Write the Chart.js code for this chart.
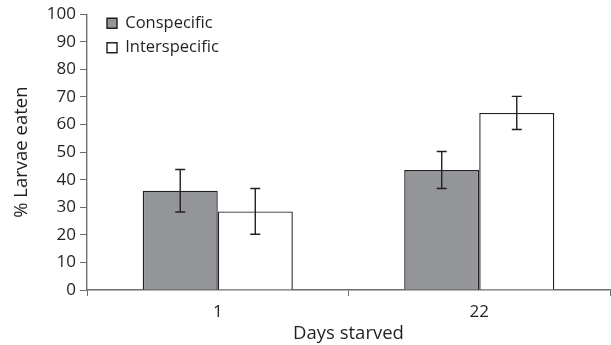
<!DOCTYPE html>
<html>
<head>
<meta charset="utf-8">
<style>
    html, body { margin: 0; padding: 0; background: #fff; }
    .chart { width: 611px; height: 345px; }
</style>
<script src="https://cdn.jsdelivr.net/npm/chart.js"></script>
</head>
<body>
<div class="chart">
    <canvas id="myChart" width="611" height="345"></canvas>
</div>
<script type="text/javascript">
    const days = ['1', '22']
    const conspecific = [36, 43.5]
    const conspecificErr = [7.7, 6.7]
    const interspecific = [28.5, 64.2]
    const interspecificErr = [8.3, 6.0]
    const yTicks = [0, 10, 20, 30, 40, 50, 60, 70, 80, 90, 100]

    const errors = [conspecificErr, interspecificErr]

    // draws the error bars on top of each bar
    const errorBars = {
        id: 'errorBars',
        afterDatasetsDraw(chart) {
            const c = chart.ctx
            const y = chart.scales.y
            c.save()
            c.strokeStyle = '#231f20'
            c.lineWidth = 1.4
            chart.data.datasets.forEach((ds, i) => {
                chart.getDatasetMeta(i).data.forEach((bar, j) => {
                    const v = ds.data[j], e = errors[i][j]
                    const top = y.getPixelForValue(v + e)
                    const bot = y.getPixelForValue(v - e)
                    c.beginPath()
                    c.moveTo(bar.x, top); c.lineTo(bar.x, bot)
                    c.moveTo(bar.x - 5, top); c.lineTo(bar.x + 5, top)
                    c.moveTo(bar.x - 5, bot); c.lineTo(bar.x + 5, bot)
                    c.stroke()
                })
            })
            c.restore()
        }
    }

    // nudge the legend a bit right and down, like in the original
    const legendShift = {
        id: 'legendShift',
        afterLayout(chart) {
            chart.legend.left += 12
            chart.legend.right += 12
            chart.legend.top += 7
            chart.legend.bottom += 7
        }
    }

    Chart.defaults.font.family = '"Open Sans", sans-serif'
    Chart.defaults.font.size = 17
    Chart.defaults.color = '#231f20'

    const ctx = document.getElementById('myChart')
    var chart = new Chart(ctx, {
        type: 'bar',
        data: {
            labels: days,
            datasets: [{
                label: 'Conspecific',
                data: conspecific,
                backgroundColor: '#939598',
                borderColor: '#231f20',
                borderWidth: 1.4,
                categoryPercentage: 0.574,
                barPercentage: 1
            }, {
                label: 'Interspecific',
                data: interspecific,
                backgroundColor: '#ffffff',
                borderColor: '#231f20',
                borderWidth: 1.4,
                categoryPercentage: 0.574,
                barPercentage: 1
            }]
        },
        options: {
            responsive: false,
            animation: false,
            layout: { padding: { top: 14, right: 1, left: 0, bottom: 0 } },
            plugins: {
                tooltip: { enabled: false },
                legend: {
                    position: 'chartArea',
                    align: 'start',
                    labels: {
                        boxWidth: 10,
                        boxHeight: 10,
                        padding: 8,
                        font: { size: 16.5 },
                        color: '#231f20'
                    }
                }
            },
            scales: {
                x: {
                    grid: {
                        offset: true,
                        drawOnChartArea: false,
                        tickLength: 6,
                        color: '#6d6e71'
                    },
                    border: { color: '#6d6e71', width: 1.4 },
                    ticks: { padding: 6 },
                    title: {
                        display: true,
                        text: 'Days starved',
                        font: { size: 18.5 },
                        padding: { top: 0, bottom: 0 }
                    },
                    afterFit(scale) { scale.height = 55 }
                },
                y: {
                    min: 0,
                    max: 100,
                    afterBuildTicks(scale) { scale.ticks = yTicks.map(v => ({ value: v })) },
                    grid: {
                        drawOnChartArea: false,
                        tickLength: 7,
                        color: '#6d6e71'
                    },
                    border: { color: '#6d6e71', width: 1.4 },
                    ticks: { padding: 4 },
                    title: {
                        display: true,
                        text: '% Larvae eaten',
                        font: { size: 18.5 },
                        padding: { top: 11, bottom: 6 }
                    },
                    afterFit(scale) { scale.width = 87 }
                }
            }
        },
        plugins: [errorBars, legendShift]
    });
</script>
</body>
</html>
